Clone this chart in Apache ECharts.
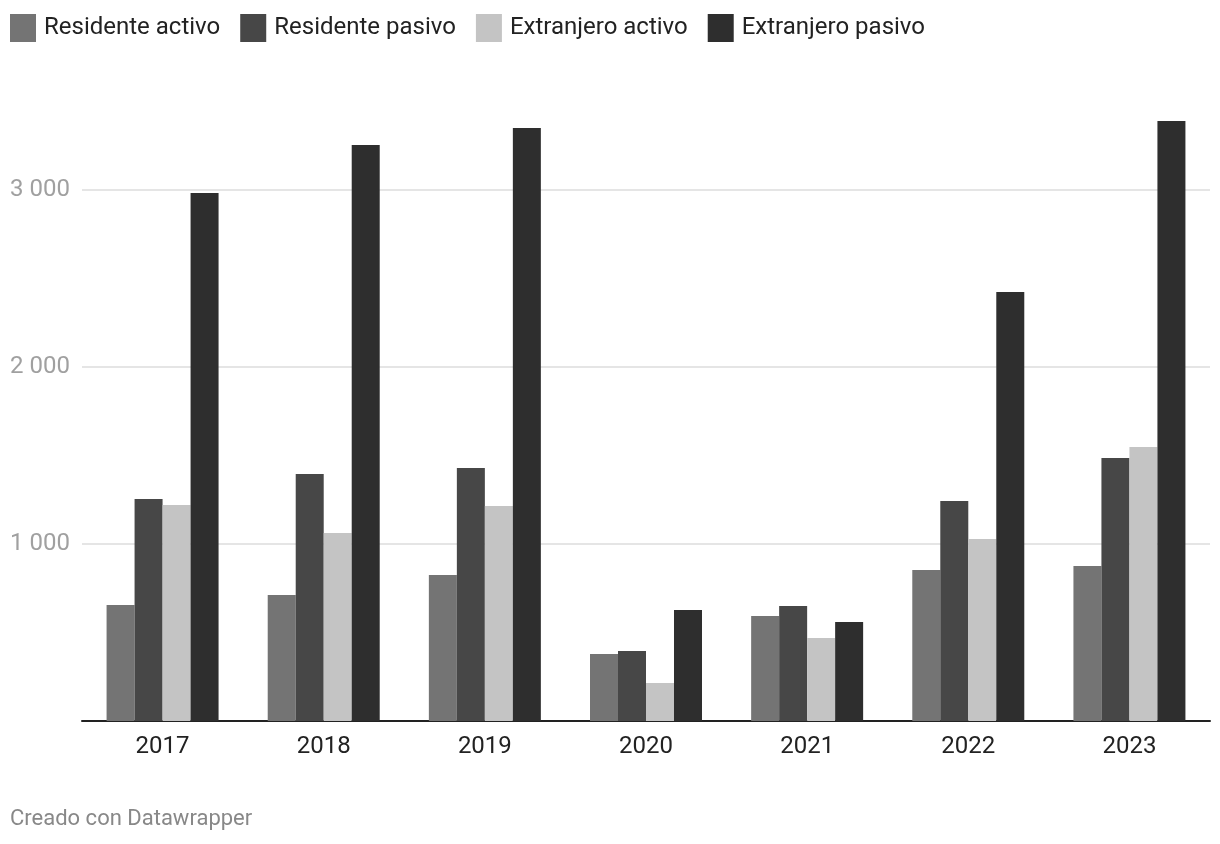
<!DOCTYPE html>
<html>
<head>
<meta charset="utf-8">
<script src="https://cdn.jsdelivr.net/npm/echarts@6/dist/echarts.min.js"></script>
<style>
html,body{margin:0;padding:0;background:#fff;}
#c{width:1220px;height:844px;}
</style>
</head>
<body>
<div id="c"></div>
<script>
const categories = ['2017','2018','2019','2020','2021','2022','2023'];
const residenteActivo = [655, 712, 825, 379, 593, 853, 876];
const residentePasivo = [1254, 1395, 1429, 395, 650, 1243, 1486];
const extranjeroActivo = [1220, 1062, 1215, 215, 469, 1028, 1548];
const extranjeroPasivo = [2983, 3254, 3350, 627, 559, 2424, 3390];
const seriesNames = ['Residente activo','Residente pasivo','Extranjero activo','Extranjero pasivo'];
const colors = ['#747474','#474747','#c4c4c4','#2e2e2e'];

const chart = echarts.init(document.getElementById('c'));
const fmt = v => (v % 1000 === 0 && v > 0) ? String(v).replace(/\B(?=(\d{3})+(?!\d))/g, ' ') : '';
const allData = [residenteActivo, residentePasivo, extranjeroActivo, extranjeroPasivo];
chart.setOption({
  animation: false,
  color: colors,
  textStyle: {fontFamily: 'Roboto'},
  legend: {
    left: 5, top: 9,
    itemWidth: 26, itemHeight: 28, itemGap: 20,
    icon: 'rect',
    textStyle: {fontSize: 24, color: '#222', fontFamily: 'Roboto', padding: [0,0,0,3]},
    data: seriesNames
  },
  graphic: [{
    type: 'text', left: 10, top: 808,
    style: {text: 'Creado con Datawrapper', fontSize: 22, fill: '#888', fontFamily: 'Roboto'}
  }],
  grid: {left: 82, right: 10, top: 101.5, bottom: 123},
  xAxis: {
    type: 'category', data: categories,
    axisLine: {lineStyle: {color: '#222', width: 2}},
    axisTick: {show: false},
    axisLabel: {fontSize: 24, color: '#222', margin: 14, fontFamily: 'Roboto'}
  },
  yAxis: {
    type: 'value', min: 0, max: 3500, interval: 1000,
    axisLine: {show: false}, axisTick: {show: false},
    axisLabel: {fontSize: 24, color: '#a0a0a0', margin: 12, formatter: fmt, fontFamily: 'Roboto'},
    splitLine: {lineStyle: {color: ['rgba(0,0,0,0)','#e5e5e5','#e5e5e5','#e5e5e5','rgba(0,0,0,0)'], width: 2}}
  },
  series: seriesNames.map((n, i) => ({
    name: n, type: 'bar', data: allData[i],
    barGap: '0%', barCategoryGap: '30.5%',
    itemStyle: {color: colors[i]}
  }))
});
</script>
</body>
</html>
